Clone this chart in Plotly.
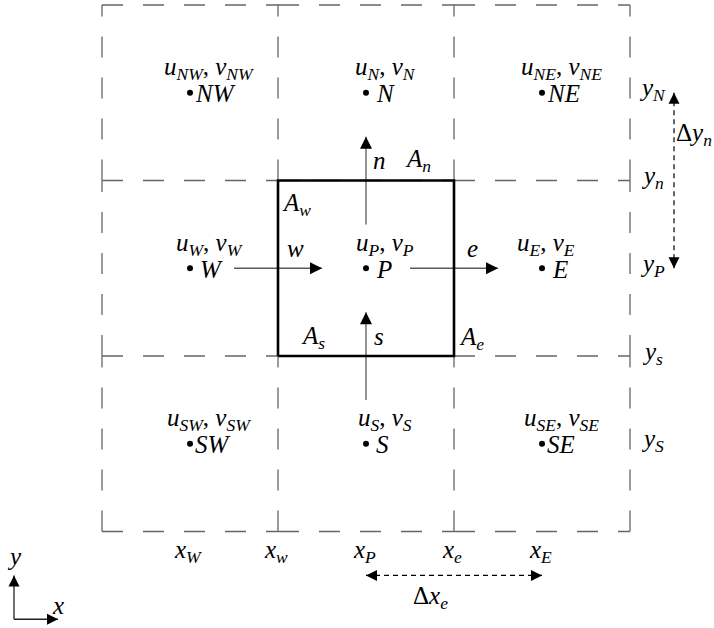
import plotly.graph_objects as go

# Control-volume faces (grid lines) and node centres, in cell units
face_x = [0, 1, 2, 3]
face_y = [0, 1, 2, 3]
node_names = ["SW", "S", "SE", "W", "P", "E", "NW", "N", "NE"]
node_x = [0.5, 1.5, 2.5, 0.5, 1.5, 2.5, 0.5, 1.5, 2.5]
node_y = [0.5, 0.5, 0.5, 1.5, 1.5, 1.5, 2.5, 2.5, 2.5]

# Coordinate labels along the bottom and right edges
x_tick_text = ["W", "w", "P", "e", "E"]
x_tick_pos = [0.5, 1.0, 1.5, 2.0, 2.5]
y_tick_text = ["S", "s", "P", "n", "N"]
y_tick_pos = [0.5, 1.0, 1.5, 2.0, 2.5]

# Central control volume
cv_x = [1, 2]
cv_y = [1, 2]

FONT = "Liberation Serif"
GRID = "#666666"
ARROW_LINE = "#5a5a5a"


def it(s):
    return "<i>" + s + "</i>"


def sym(base, sub):
    return it(base) + "<sub>" + it(sub) + "</sub>"


fig = go.Figure()

# dashed mesh: every cell edge is its own sub-path so the dash pattern restarts
gx, gy = [], []
for y in face_y:
    for i in range(len(face_x) - 1):
        gx += [face_x[i], face_x[i + 1], None]
        gy += [y, y, None]
for x in face_x:
    for j in range(len(face_y) - 1):
        gx += [x, x, None]
        gy += [face_y[j], face_y[j + 1], None]
fig.add_trace(go.Scatter(x=gx, y=gy, mode="lines", connectgaps=False,
                         line=dict(color=GRID, width=1.3, dash="21px,20px"),
                         hoverinfo="skip"))

# face-normal arrows crossing w, e, s, n faces
half = 0.25
px_c = node_x[node_names.index("P")]
py_c = node_y[node_names.index("P")]
arrows = [
    ((cv_x[0] - half, py_c), (cv_x[0] + half, py_c), "arrow-right"),
    ((cv_x[1] - half, py_c), (cv_x[1] + half, py_c), "arrow-right"),
    ((px_c, cv_y[0] - half), (px_c, cv_y[0] + half), "arrow-up"),
    ((px_c, cv_y[1] - half), (px_c, cv_y[1] + half), "arrow-up"),
]
for (x0, y0), (x1, y1), head in arrows:
    fig.add_trace(go.Scatter(x=[x0, x1], y=[y0, y1], mode="lines",
                             line=dict(color=ARROW_LINE, width=1.3),
                             hoverinfo="skip"))

# control-volume outline
fig.add_trace(go.Scatter(
    x=[cv_x[0], cv_x[1], cv_x[1], cv_x[0], cv_x[0]],
    y=[cv_y[0], cv_y[0], cv_y[1], cv_y[1], cv_y[0]],
    mode="lines", line=dict(color="black", width=2.6), hoverinfo="skip"))

for (x0, y0), (x1, y1), head in arrows:
    fig.add_trace(go.Scatter(x=[x1], y=[y1], mode="markers",
                             marker=dict(symbol=head, size=12, color="black"),
                             hoverinfo="skip"))

# dashed spacing arrows: delta x_e and delta y_n
xP, xE = node_x[node_names.index("P")], node_x[node_names.index("E")]
yP, yN = node_y[node_names.index("P")], node_y[node_names.index("N")]
dx_y = -0.25
dy_x = face_x[-1] + 0.25
fig.add_trace(go.Scatter(x=[xP, xE], y=[dx_y, dx_y], mode="lines",
                         line=dict(color="black", width=1.2, dash="5px,4px"),
                         hoverinfo="skip"))
fig.add_trace(go.Scatter(x=[dy_x, dy_x], y=[yP, yN], mode="lines",
                         line=dict(color="black", width=1.2, dash="5px,4px"),
                         hoverinfo="skip"))
fig.add_trace(go.Scatter(
    x=[xP, xE, dy_x, dy_x], y=[dx_y, dx_y, yP, yN], mode="markers",
    marker=dict(symbol=["arrow-left", "arrow-right", "arrow-down", "arrow-up"],
                size=11, color="black"),
    hoverinfo="skip"))

# coordinate-system glyph in the corner
ox, oy, ol = -0.5, -0.5, 0.25
fig.add_trace(go.Scatter(x=[ox, ox, None, ox, ox + ol], y=[oy + ol, oy, None, oy, oy],
                         mode="lines", line=dict(color="#222", width=1.3),
                         hoverinfo="skip"))
fig.add_trace(go.Scatter(x=[ox, ox + ol], y=[oy + ol, oy], mode="markers",
                         marker=dict(symbol=["arrow-up", "arrow-right"], size=11,
                                     color="black"), hoverinfo="skip"))

# node points
fig.add_trace(go.Scatter(x=node_x, y=node_y, mode="markers",
                         marker=dict(size=6, color="black"), hoverinfo="skip"))

ann = []


def label(text, x, y, xs=0, ys=0, xanchor="center", size=25):
    ann.append(dict(text=text, x=x, y=y, xref="x", yref="y", xshift=xs, yshift=ys,
                    xanchor=xanchor, yanchor="middle", showarrow=False,
                    font=dict(family=FONT, size=size, color="black")))


for name, x, y in zip(node_names, node_x, node_y):
    label(it(name), x, y, xs=(8 if len(name) == 1 else 3), ys=-1, xanchor="left")
    uv = sym("u", name) + ", " + sym("v", name)
    label(uv, x, y, xs=(4 if name == "E" else 19), ys=24)

for t, x in zip(x_tick_text, x_tick_pos):
    label(sym("x", t), x, face_y[0], xs=-2, ys=-20)
for t, y in zip(y_tick_text, y_tick_pos):
    label(sym("y", t), face_x[-1], y, xs=22, ys=3)

# face labels and face areas
label(it("n"), px_c, cv_y[1], xs=5, ys=20, xanchor="left")
label(it("s"), px_c, cv_y[0], xs=6, ys=20, xanchor="left")
label(it("w"), cv_x[0], py_c, xs=17, ys=20)
label(it("e"), cv_x[1], py_c, xs=18, ys=20)
label(sym("A", "n"), cv_x[1], cv_y[1], xs=-36, ys=20)
label(sym("A", "w"), cv_x[0], cv_y[1], xs=18, ys=-24)
label(sym("A", "s"), cv_x[0], cv_y[0], xs=35, ys=19)
label(sym("A", "e"), cv_x[1], cv_y[0], xs=17, ys=18)

label("Δ" + sym("x", "e"), (xP + xE) / 2, dx_y, xs=-24, ys=-22)
label("Δ" + sym("y", "n"), dy_x, 2.25, xs=0, ys=2, xanchor="left")

label(it("x"), ox + ol, oy, xs=0, ys=14)
label(it("y"), ox, oy + ol, xs=0, ys=19)

fig.update_layout(
    width=714, height=628,
    margin=dict(l=0, r=0, t=0, b=0),
    paper_bgcolor="white", plot_bgcolor="white",
    showlegend=False,
    annotations=ann,
    xaxis=dict(range=[-102 / 176, 612 / 176], visible=False, fixedrange=True),
    yaxis=dict(range=[-96.5 / 175.5, 531.5 / 175.5], visible=False, fixedrange=True),
)

fig.write_html("out.html")
